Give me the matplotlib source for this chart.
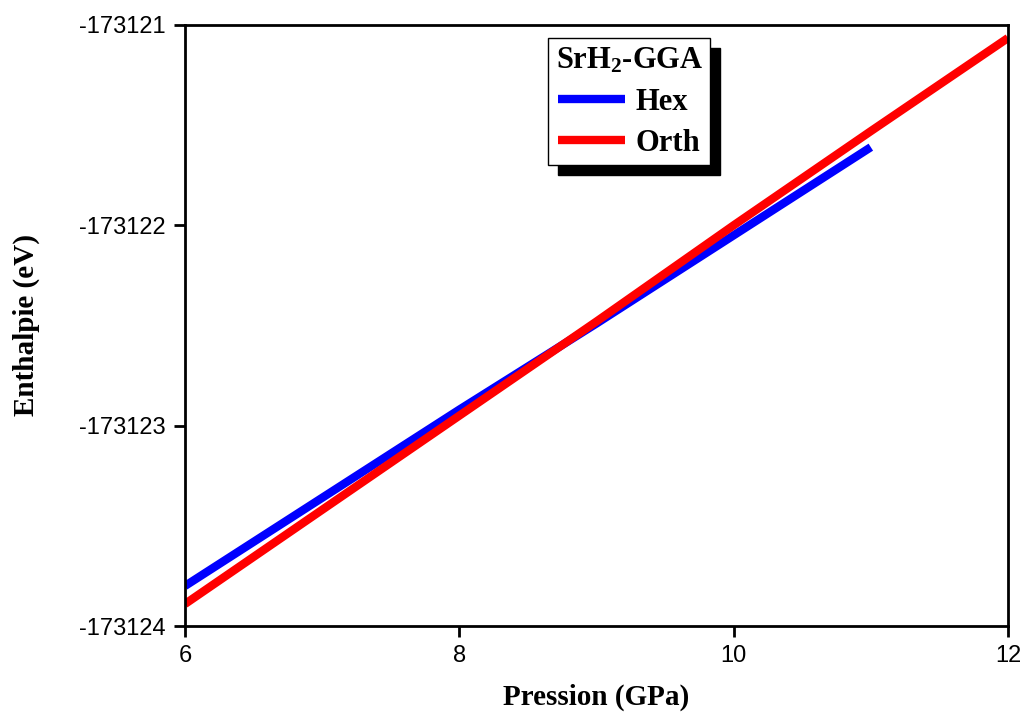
import matplotlib
matplotlib.use("Agg")
import matplotlib.pyplot as plt
from matplotlib.ticker import MultipleLocator

plt.rcParams["axes.unicode_minus"] = False
plt.rcParams["mathtext.fontset"] = "custom"
plt.rcParams["mathtext.rm"] = "Liberation Serif:bold"
plt.rcParams["mathtext.it"] = "Liberation Serif:bold"
plt.rcParams["mathtext.bf"] = "Liberation Serif:bold"

pressure_hex = [6, 7, 8, 9, 10, 11]
enthalpy_hex = [-173123.80, -173123.36, -173122.92, -173122.49, -173122.05, -173121.61]
pressure_orth = [6, 7, 8, 9, 10, 11, 12]
enthalpy_orth = [-173123.89, -173123.42, -173122.95, -173122.48, -173122.00, -173121.53, -173121.065]

fig = plt.figure(figsize=(10.25, 7.13), dpi=100)
ax = fig.add_axes([0.1805, 0.122, 0.8029, 0.843])

ax.plot(pressure_hex, enthalpy_hex, color="#0000ff", lw=6, label="Hex", solid_capstyle="butt")
ax.plot(pressure_orth, enthalpy_orth, color="#ff0000", lw=6, label="Orth", solid_capstyle="butt")

ax.set_xlim(6, 12)
ax.set_ylim(-173124, -173121)
ax.xaxis.set_major_locator(MultipleLocator(2))
ax.yaxis.set_major_locator(MultipleLocator(1))
ax.ticklabel_format(useOffset=False, style="plain")
ax.tick_params(axis="both", direction="out", length=8, width=2, labelsize=17, pad=6)
for lab in ax.get_xticklabels() + ax.get_yticklabels():
    lab.set_fontfamily("Liberation Sans")
for sp in ax.spines.values():
    sp.set_linewidth(2)

ax.set_xlabel("Pression (GPa)", fontsize=21, fontweight="bold", family="Liberation Serif", labelpad=12)
ax.set_ylabel("Enthalpie (eV)", fontsize=21, fontweight="bold", family="Liberation Serif", labelpad=28)

leg = ax.legend(loc="upper left", bbox_to_anchor=(0.441, 0.978), title="SrH$_2$-GGA",
                prop={"family": "Liberation Serif", "weight": "bold", "size": 22},
                frameon=True, fancybox=False, edgecolor="black", framealpha=1,
                shadow={"ox": 7, "oy": -7, "color": "black", "alpha": 1},
                handlelength=2.2, handletextpad=0.35, borderpad=0.25, labelspacing=0.4,
                borderaxespad=0)
leg.get_title().set_fontfamily("Liberation Serif")
leg.get_title().set_fontweight("bold")
leg.get_title().set_fontsize(22)
leg.get_frame().set_linewidth(1)
plt.setp(leg.get_texts(), family="Liberation Serif", weight="bold")

fig.savefig("out.png", dpi=100)
